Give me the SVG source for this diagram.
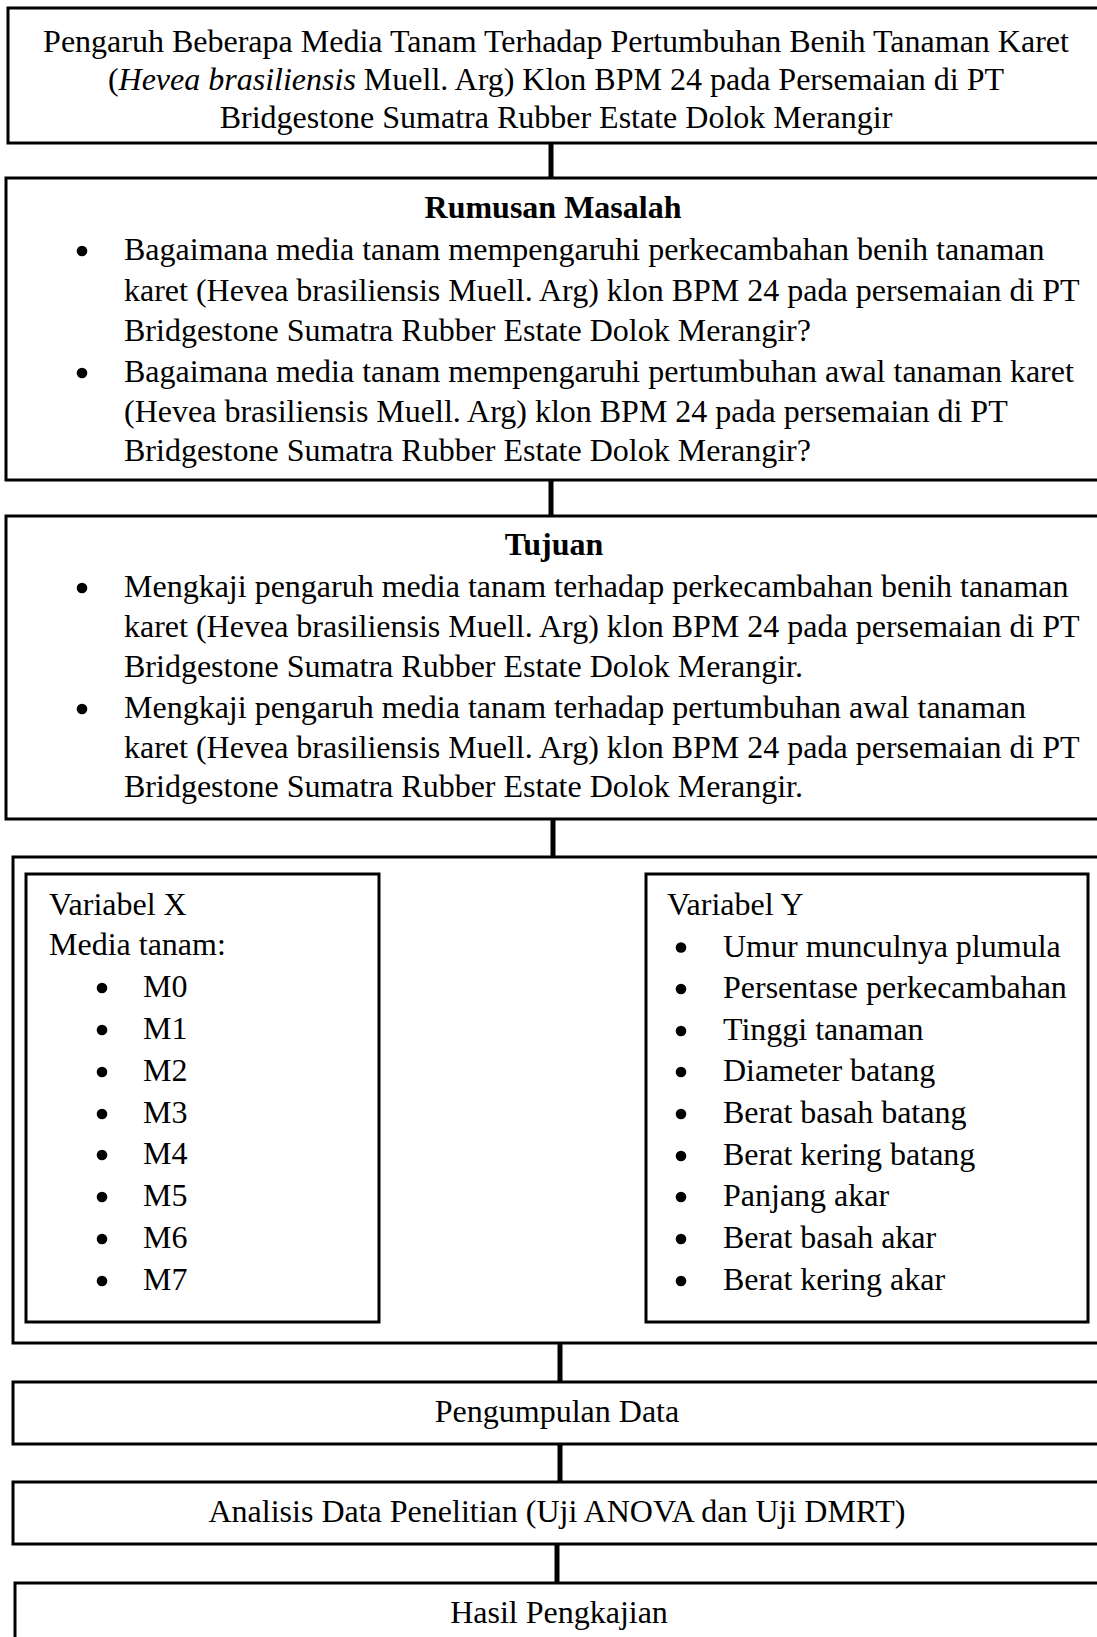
<svg xmlns="http://www.w3.org/2000/svg" width="1097" height="1637" viewBox="0 0 1097 1637">
<style>
.box{fill:#fff;stroke:#000;stroke-width:3}
.conn{stroke:#000;stroke-width:5;fill:none}
text{font-family:"Liberation Serif","Times New Roman",serif;font-size:32px;fill:#000}
.c{text-anchor:middle}
.b{font-weight:bold}
.dot{fill:#000}
</style>
<defs>
<marker id="ah" markerWidth="4" markerHeight="4" refX="3.6" refY="2" orient="auto" markerUnits="strokeWidth">
<path d="M0,0 L4,2 L0,4 Z" fill="#000"/>
</marker>
<circle id="bul" r="5.3" class="dot"/>
</defs>
<rect width="1097" height="1637" fill="#fff"/>
<g id="connectors">
<line class="conn" x1="551" y1="143" x2="551" y2="178"/>
<line class="conn" x1="551" y1="480" x2="551" y2="516"/>
<line class="conn" x1="553" y1="819" x2="553" y2="857"/>
<line class="conn" x1="560" y1="1343" x2="560" y2="1382"/>
<line class="conn" x1="560" y1="1444" x2="560" y2="1482"/>
<line class="conn" x1="557" y1="1544" x2="557" y2="1583"/>
<line x1="454" y1="1033" x2="555" y2="1033" stroke="#000" stroke-width="3" marker-end="url(#ah)"/>
</g>
<g id="judul">
<rect class="box" x="8" y="8" width="1100" height="135"/>
<text class="c" x="556" y="52">Pengaruh Beberapa Media Tanam Terhadap Pertumbuhan Benih Tanaman Karet</text>
<text class="c" x="556" y="90">(<tspan font-style="italic">Hevea brasiliensis</tspan> Muell. Arg) Klon BPM 24 pada Persemaian di PT</text>
<text class="c" x="556" y="128">Bridgestone Sumatra Rubber Estate Dolok Merangir</text>
</g>
<g id="rumusan">
<rect class="box" x="6" y="178" width="1100" height="302"/>
<text class="c b" x="553" y="218">Rumusan Masalah</text>
<use href="#bul" x="82" y="251"/>
<text x="124" y="260">Bagaimana media tanam mempengaruhi perkecambahan benih tanaman</text>
<text x="124" y="300.5">karet (Hevea brasiliensis Muell. Arg) klon BPM 24 pada persemaian di PT</text>
<text x="124" y="341">Bridgestone Sumatra Rubber Estate Dolok Merangir?</text>
<use href="#bul" x="82" y="373"/>
<text x="124" y="382">Bagaimana media tanam mempengaruhi pertumbuhan awal tanaman karet</text>
<text x="124" y="421.5">(Hevea brasiliensis Muell. Arg) klon BPM 24 pada persemaian di PT</text>
<text x="124" y="461">Bridgestone Sumatra Rubber Estate Dolok Merangir?</text>
</g>
<g id="tujuan">
<rect class="box" x="6" y="516" width="1100" height="303"/>
<text class="c b" x="554" y="555">Tujuan</text>
<use href="#bul" x="82" y="588"/>
<text x="124" y="597">Mengkaji pengaruh media tanam terhadap perkecambahan benih tanaman</text>
<text x="124" y="637">karet (Hevea brasiliensis Muell. Arg) klon BPM 24 pada persemaian di PT</text>
<text x="124" y="677">Bridgestone Sumatra Rubber Estate Dolok Merangir.</text>
<use href="#bul" x="82" y="709"/>
<text x="124" y="718">Mengkaji pengaruh media tanam terhadap pertumbuhan awal tanaman</text>
<text x="124" y="758">karet (Hevea brasiliensis Muell. Arg) klon BPM 24 pada persemaian di PT</text>
<text x="124" y="797">Bridgestone Sumatra Rubber Estate Dolok Merangir.</text>
</g>
<g id="variabel">
<rect class="box" x="13" y="857" width="1100" height="486"/>
</g>
<g id="variabel-x">
<rect class="box" x="26" y="874" width="353" height="448"/>
<text x="49" y="915">Variabel X</text>
<text x="49" y="955">Media tanam:</text>
<use href="#bul" x="102" y="988"/><text x="143" y="997">M0</text>
<use href="#bul" x="102" y="1030"/><text x="143" y="1039">M1</text>
<use href="#bul" x="102" y="1072"/><text x="143" y="1081">M2</text>
<use href="#bul" x="102" y="1114"/><text x="143" y="1123">M3</text>
<use href="#bul" x="102" y="1155"/><text x="143" y="1164">M4</text>
<use href="#bul" x="102" y="1197"/><text x="143" y="1206">M5</text>
<use href="#bul" x="102" y="1239"/><text x="143" y="1248">M6</text>
<use href="#bul" x="102" y="1281"/><text x="143" y="1290">M7</text>
</g>
<g id="variabel-y">
<rect class="box" x="646" y="874" width="442" height="448"/>
<text x="667" y="915">Variabel Y</text>
<use href="#bul" x="681" y="947.5"/><text x="723" y="956.5">Umur munculnya plumula</text>
<use href="#bul" x="681" y="989"/><text x="723" y="998">Persentase perkecambahan</text>
<use href="#bul" x="681" y="1031"/><text x="723" y="1040">Tinggi tanaman</text>
<use href="#bul" x="681" y="1072"/><text x="723" y="1081">Diameter batang</text>
<use href="#bul" x="681" y="1114"/><text x="723" y="1123">Berat basah batang</text>
<use href="#bul" x="681" y="1156"/><text x="723" y="1165">Berat kering batang</text>
<use href="#bul" x="681" y="1197"/><text x="723" y="1206">Panjang akar</text>
<use href="#bul" x="681" y="1239"/><text x="723" y="1248">Berat basah akar</text>
<use href="#bul" x="681" y="1281"/><text x="723" y="1290">Berat kering akar</text>
</g>
<g id="pengumpulan">
<rect class="box" x="13" y="1382" width="1100" height="62"/>
<text class="c" x="557" y="1422">Pengumpulan Data</text>
</g>
<g id="analisis">
<rect class="box" x="13" y="1482" width="1100" height="62"/>
<text class="c" x="557" y="1522">Analisis Data Penelitian (Uji ANOVA dan Uji DMRT)</text>
</g>
<g id="hasil">
<rect class="box" x="15" y="1583" width="1100" height="80"/>
<text class="c" x="559" y="1623">Hasil Pengkajian</text>
</g>
</svg>
